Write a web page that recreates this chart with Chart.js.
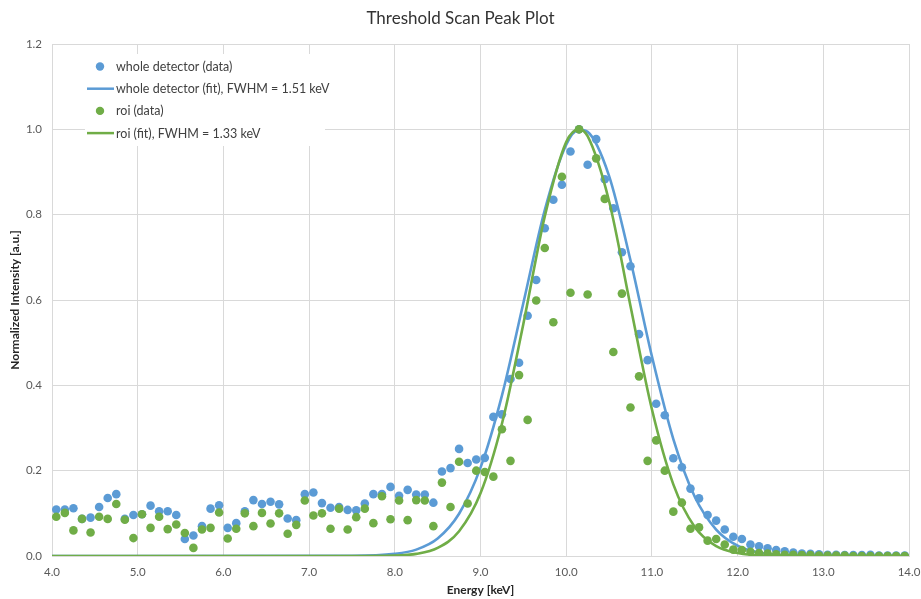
<!DOCTYPE html>
<html>
<head>
<meta charset="utf-8">
<title>Threshold Scan Peak Plot</title>
<script src="https://cdn.jsdelivr.net/npm/chart.js@4.4.1/dist/chart.umd.min.js"></script>
<style>
  html, body { margin: 0; padding: 0; background: #fff; }
  #wrap { width: 921px; height: 599px; }
</style>
</head>
<body>
<div id="wrap"><canvas id="peakChart" width="921" height="599"></canvas></div>
<script>
// measured energies (keV)
const energy = [
  4.05, 4.15, 4.25, 4.35, 4.45, 4.55, 4.65, 4.75, 4.85, 4.95,
  5.05, 5.15, 5.25, 5.35, 5.45, 5.55, 5.65, 5.75, 5.85, 5.95,
  6.05, 6.15, 6.25, 6.35, 6.45, 6.55, 6.65, 6.75, 6.85, 6.95,
  7.05, 7.15, 7.25, 7.35, 7.45, 7.55, 7.65, 7.75, 7.85, 7.95,
  8.05, 8.15, 8.25, 8.35, 8.45, 8.55, 8.65, 8.75, 8.85, 8.95,
  9.05, 9.15, 9.25, 9.35, 9.45, 9.55, 9.65, 9.75, 9.85, 9.95,
  10.05, 10.15, 10.25, 10.35, 10.45, 10.55, 10.65, 10.75, 10.85, 10.95,
  11.05, 11.15, 11.25, 11.35, 11.45, 11.55, 11.65, 11.75, 11.85, 11.95,
  12.05, 12.15, 12.25, 12.35, 12.45, 12.55, 12.65, 12.75, 12.85, 12.95,
  13.05, 13.15, 13.25, 13.35, 13.45, 13.55, 13.65, 13.75, 13.85, 13.95
];
const wholeData = [
  0.109, 0.109, 0.112, 0.087, 0.090, 0.115, 0.136, 0.145, 0.087, 0.096,
  0.098, 0.118, 0.105, 0.105, 0.096, 0.040, 0.048, 0.070, 0.111, 0.119,
  0.066, 0.077, 0.105, 0.131, 0.122, 0.127, 0.121, 0.088, 0.084, 0.145,
  0.149, 0.124, 0.113, 0.115, 0.108, 0.107, 0.123, 0.145, 0.145, 0.162,
  0.141, 0.155, 0.144, 0.144, 0.125, 0.198, 0.206, 0.251, 0.218, 0.226,
  0.230, 0.326, 0.332, 0.415, 0.453, 0.563, 0.647, 0.768, 0.835, 0.870,
  0.948, 1.000, 0.917, 0.977, 0.883, 0.815, 0.712, 0.679, 0.520, 0.459,
  0.357, 0.330, 0.229, 0.208, 0.158, 0.135, 0.096, 0.083, 0.062, 0.045,
  0.040, 0.027, 0.023, 0.018, 0.014, 0.011, 0.008, 0.006, 0.005, 0.004,
  0.003, 0.003, 0.002, 0.002, 0.002, 0.003, 0.001, 0.001, 0.001, 0.001
];
const roiData = [
  0.092, 0.101, 0.060, 0.087, 0.055, 0.092, 0.087, 0.122, 0.085, 0.042,
  0.098, 0.066, 0.092, 0.063, 0.074, 0.054, 0.019, 0.062, 0.066, 0.102,
  0.041, 0.064, 0.100, 0.070, 0.101, 0.076, 0.100, 0.052, 0.073, 0.130,
  0.095, 0.100, 0.064, 0.111, 0.062, 0.091, 0.111, 0.077, 0.140, 0.086,
  0.130, 0.084, 0.131, 0.130, 0.070, 0.172, 0.115, 0.221, 0.123, 0.200,
  0.197, 0.186, 0.297, 0.223, 0.424, 0.319, 0.599, 0.722, 0.548, 0.889,
  0.617, 1.000, 0.613, 0.932, 0.837, 0.478, 0.615, 0.348, 0.421, 0.223,
  0.271, 0.200, 0.104, 0.125, 0.064, 0.067, 0.036, 0.040, 0.027, 0.015,
  0.014, 0.010, 0.007, 0.006, 0.004, 0.003, 0.003, 0.002, 0.002, 0.001,
  0.001, 0.001, 0.001, 0.000, 0.000, 0.000, 0.000, 0.000, 0.000, 0.000
];

// fitted curves
const fitEnergy = [4.0, 7.5, 8.0, 8.25, 8.5, 8.75, 9.0, 9.25, 9.5, 9.75, 10.0, 10.15,
                   10.25, 10.5, 10.75, 11.0, 11.25, 11.5, 11.75, 12.0, 12.25, 12.5, 13.0, 14.0];
const wholeFit = [0, 0.0003, 0.005, 0.015, 0.041, 0.099, 0.207, 0.376, 0.593, 0.811, 0.964, 0.999,
                  0.994, 0.891, 0.693, 0.468, 0.274, 0.139, 0.062, 0.024, 0.008, 0.002, 0.0001, 0];
const roiFit = [0, 0, 0.001, 0.005, 0.019, 0.058, 0.147, 0.310, 0.544, 0.796, 0.970, 1.0,
                0.984, 0.832, 0.586, 0.344, 0.168, 0.068, 0.023, 0.007, 0.0015, 0.0003, 0, 0];

const xTicks = ['4.0', '5.0', '6.0', '7.0', '8.0', '9.0', '10.0', '11.0', '12.0', '13.0', '14.0'];
const yTicks = ['0.0', '0.2', '0.4', '0.6', '0.8', '1.0', '1.2'];

const legendLabels = [
  'whole detector (data)',
  'whole detector (fit), FWHM = 1.51 keV',
  'roi (data)',
  'roi (fit), FWHM = 1.33 keV'
];

const BLUE = '#5B9BD5';
const GREEN = '#70AD47';
const FONT = 'Lato, "Open Sans", sans-serif';

function pairs(xs, ys) {
  return xs.map((x, i) => ({ x: x, y: ys[i] }));
}

// Excel-style legend sitting inside the plot area
const insideLegend = {
  id: 'insideLegend',
  afterDraw(chart) {
    const c = chart.ctx;
    const area = chart.chartArea;
    const bx = area.left + 33, by = area.top + 10;
    c.save();
    c.fillStyle = '#ffffff';
    c.fillRect(bx, by, 240, 92);
    c.font = '12.5px ' + FONT;
    c.textBaseline = 'middle';
    c.textAlign = 'left';
    legendLabels.forEach((txt, i) => {
      const y = by + 12.5 + i * 22.2;
      const col = i < 2 ? BLUE : GREEN;
      if (i % 2 === 0) {
        c.fillStyle = col;
        c.beginPath();
        c.arc(bx + 15, y, 4.2, 0, Math.PI * 2);
        c.fill();
      } else {
        c.strokeStyle = col;
        c.lineWidth = 2.5;
        c.beginPath();
        c.moveTo(bx + 2, y);
        c.lineTo(bx + 29, y);
        c.stroke();
      }
      c.fillStyle = '#404040';
      c.fillText(txt, bx + 31, y + 0.5);
    });
    c.restore();
  }
};

new Chart(document.getElementById('peakChart').getContext('2d'), {
  type: 'scatter',
  data: {
    datasets: [
      {
        label: legendLabels[0],
        data: pairs(energy, wholeData),
        backgroundColor: BLUE,
        borderColor: BLUE,
        pointRadius: 4.3,
        pointBorderWidth: 0,
        showLine: false,
        order: 4
      },
      {
        label: legendLabels[1],
        data: pairs(fitEnergy, wholeFit),
        borderColor: BLUE,
        backgroundColor: BLUE,
        borderWidth: 2.6,
        pointRadius: 0,
        showLine: true,
        cubicInterpolationMode: 'monotone',
        order: 3
      },
      {
        label: legendLabels[2],
        data: pairs(energy, roiData),
        backgroundColor: GREEN,
        borderColor: GREEN,
        pointRadius: 4.3,
        pointBorderWidth: 0,
        showLine: false,
        order: 2
      },
      {
        label: legendLabels[3],
        data: pairs(fitEnergy, roiFit),
        borderColor: GREEN,
        backgroundColor: GREEN,
        borderWidth: 2.6,
        pointRadius: 0,
        showLine: true,
        cubicInterpolationMode: 'monotone',
        order: 1
      }
    ]
  },
  options: {
    responsive: false,
    animation: false,
    layout: { padding: 0 },
    plugins: {
      legend: { display: false },
      tooltip: { enabled: false },
      title: {
        display: true,
        text: 'Threshold Scan Peak Plot',
        color: '#333333',
        font: { family: FONT, size: 17, weight: 'normal' },
        padding: { top: 8, bottom: 15.6 }
      }
    },
    scales: {
      x: {
        type: 'linear',
        min: 4,
        max: 14,
        afterFit: s => { s.height = 43; s.paddingRight = 12; s.paddingLeft = 0; },
        afterBuildTicks: s => { s.ticks = xTicks.map(t => ({ value: parseFloat(t) })); },
        ticks: {
          callback: (v, i) => xTicks[i],
          color: '#595959',
          font: { family: FONT, size: 11.5 },
          padding: 9,
          maxRotation: 0
        },
        grid: { color: '#d9d9d9', drawTicks: false },
        border: { color: '#d9d9d9' },
        title: {
          display: true,
          text: 'Energy [keV]',
          color: '#262626',
          font: { family: FONT, size: 12, weight: 'bold' },
          padding: { top: 0, bottom: 2 }
        }
      },
      y: {
        min: 0,
        max: 1.2,
        afterFit: s => { s.width = 52; },
        afterBuildTicks: s => { s.ticks = yTicks.map(t => ({ value: parseFloat(t) })); },
        ticks: {
          callback: (v, i) => yTicks[i],
          color: '#595959',
          font: { family: FONT, size: 11.5 },
          padding: 10
        },
        grid: { color: '#d9d9d9', drawTicks: false },
        border: { color: '#d9d9d9' },
        title: {
          display: true,
          text: 'Normalized Intensity [a.u.]',
          color: '#262626',
          font: { family: FONT, size: 12, weight: 'bold' },
          padding: { top: 8, bottom: 0 }
        }
      }
    }
  },
  plugins: [insideLegend]
});
</script>
</body>
</html>
